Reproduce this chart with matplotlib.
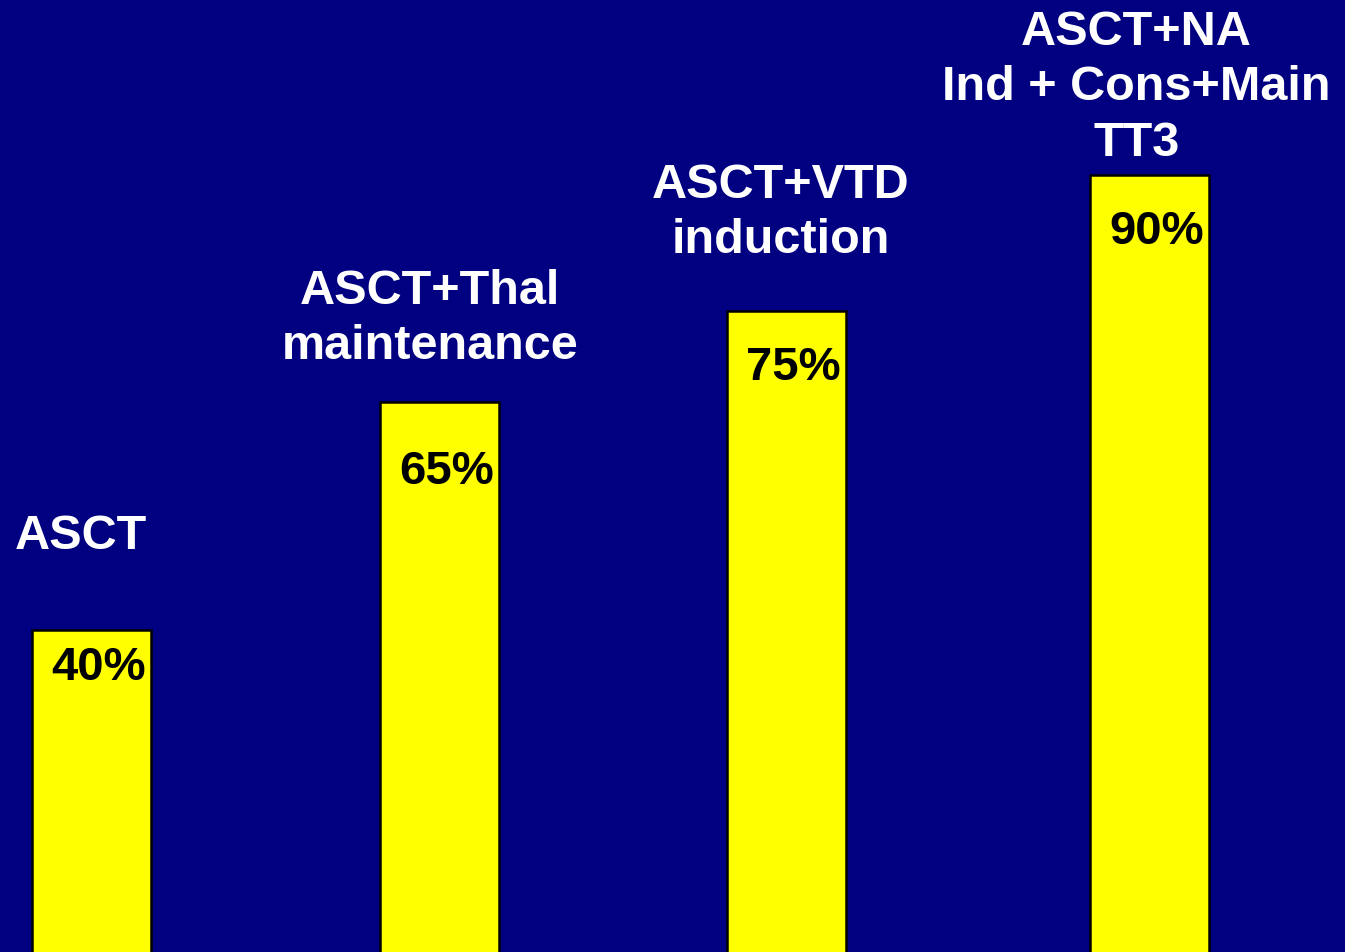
import matplotlib
matplotlib.use("Agg")
import matplotlib.pyplot as plt
from matplotlib.transforms import blended_transform_factory

# Data
categories = ["ASCT", "ASCT+Thal\nmaintenance", "ASCT+VTD\ninduction",
              "ASCT+NA\nInd + Cons+Main\nTT3"]
values = [40, 65, 75, 90]
value_labels = ["40%", "65%", "75%", "90%"]

# Layout
bar_pos = [0.008, 0.997, 1.982, 3.013]          # bar centres (category units)
cat_label_dx = [-0.030, -0.027, -0.016, -0.038]
cat_label_y_px = [537, 319, 213, 88]             # from top of figure
pct_label_y_px = [668, 472, 368, 232]

W, H = 1345, 953
fig = plt.figure(figsize=(W / 100, H / 100), dpi=100)
bg = "#000080"
fig.patch.set_facecolor(bg)
ax = fig.add_axes([0, 0, 1, 1])
ax.set_facecolor(bg)

bar_w = 0.338
ax.bar(bar_pos, values, width=bar_w, color="#FFFF00", edgecolor="black", linewidth=1.8)

ax.set_xlim(-0.2516, 3.568)
ax.set_ylim(4.6, 109.3)
ax.axis("off")

tr = blended_transform_factory(ax.transData, ax.transAxes)
font = ["Liberation Sans", "DejaVu Sans"]
for i, lab in enumerate(categories):
    ax.text(bar_pos[i] + cat_label_dx[i], 1 - cat_label_y_px[i] / H, lab, transform=tr,
            ha="center", va="center", color="white", fontsize=35,
            fontweight="bold", family=font, linespacing=1.3)

for i, lab in enumerate(value_labels):
    ax.annotate(lab, xy=(bar_pos[i] + bar_w / 2, 1 - pct_label_y_px[i] / H), xycoords=tr,
                xytext=(-5, 0), textcoords="offset pixels",
                ha="right", va="center", color="black", fontsize=34,
                fontweight="bold", family=font)

fig.savefig("out.png", dpi=100, facecolor=bg)
